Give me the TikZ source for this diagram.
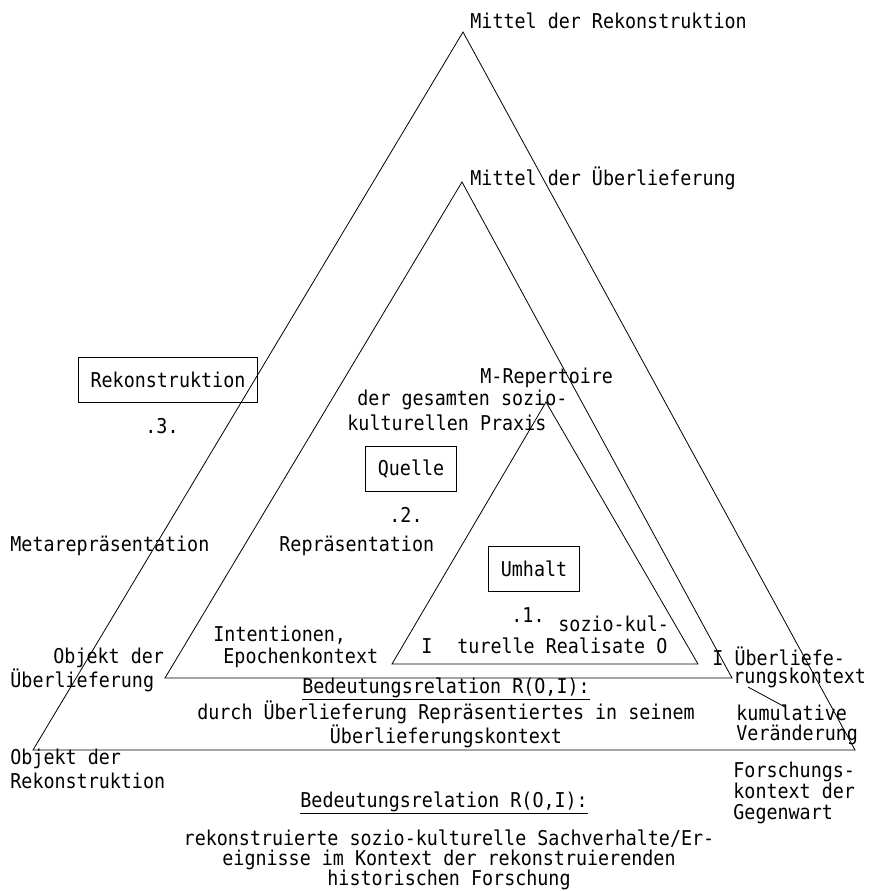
\documentclass[tikz,border=0pt]{standalone}
\usepackage{fontspec}
\setmonofont[FakeStretch=0.9]{DejaVu Sans Mono}
\usepackage{tikz}

\begin{document}
\begin{tikzpicture}[x=1pt, y=-1pt, line width=0.8pt,
    every node/.style={font=\ttfamily\fontsize{20.4}{22}\selectfont, inner sep=0pt},
    kasten/.style={draw, inner xsep=12pt, minimum height=45pt}]
    \useasboundingbox (0,0) rectangle (870,891);

    \coordinate (rek) at (463,32);
    \coordinate (rekL) at (33,750);
    \coordinate (rekR) at (855,750);
    \coordinate (ueb) at (462,182);
    \coordinate (uebL) at (165,678);
    \coordinate (uebR) at (732,678);
    \coordinate (umh) at (546,402);
    \coordinate (umhL) at (392,664);
    \coordinate (umhR) at (698,664);
    \coordinate (kumA) at (748,687);
    \coordinate (kumB) at (785,707);

    \draw (rekL) -- (rek) -- (rekR) -- cycle;
    \draw (uebL) -- (ueb) -- (uebR) -- cycle;
    \draw (umhL) -- (umh) -- (umhR) -- cycle;
    \draw (kumA) -- (kumB);

    \node[anchor=west] (mittelRek) at (470,21) {Mittel der Rekonstruktion};
    \node[anchor=west] (mittelUeb) at (470,178) {Mittel der Überlieferung};

    \node[kasten] (rekonstruktion) at (168,380) {Rekonstruktion};
    \node (drei) at (162,426) {.3.};
    \node[kasten] (quelle) at (411,469) {Quelle};
    \node (zwei) at (406,515) {.2.};
    \node[kasten] (umhalt) at (534,569) {Umhalt};
    \node (eins) at (528,615) {.1.};

    \node[anchor=west] (repertoire) at (480,378) {M-Repertoire};
    \node[anchor=west] (gesamt) at (357,400) {der gesamten sozio-};
    \node[anchor=west] (praxis) at (347,423) {kulturellen Praxis};

    \node[anchor=west] (metarep) at (10,546) {Metarepräsentation};
    \node[anchor=west] (rep) at (279,546) {Repräsentation};

    \node[anchor=west] (soziokul) at (558,624) {sozio-kul-};
    \node (innenI) at (427,646) {I};
    \node[anchor=west] (realisate) at (457,646) {turelle Realisate O};

    \node[anchor=west] (intentionen) at (213,635) {Intentionen,};
    \node[anchor=west] (epoche) at (223,658) {Epochenkontext};

    \node[anchor=west] (objUeb1) at (53,658) {Objekt der};
    \node[anchor=west] (objUeb2) at (10,680) {Überlieferung};

    \node[anchor=west] (uebKontext1) at (712,656) {I Überliefe-};
    \node[anchor=west] (uebKontext2) at (733,678) {rungskontext};

    \node[align=center, font=\ttfamily\fontsize{20.4}{21}\selectfont] (bedUeb) at (446,713)
        {\underline{Bedeutungsrelation R(O,I):}\\durch Überlieferung Repräsentiertes in seinem\\Überlieferungskontext};

    \node[anchor=west, align=left, font=\ttfamily\fontsize{20.4}{20}\selectfont] (kumulativ) at (736,725)
        {kumulative\\Veränderung};

    \node[anchor=west, align=left, font=\ttfamily\fontsize{20.4}{24}\selectfont] (objRek) at (10,769)
        {Objekt der\\Rekonstruktion};

    \node[anchor=west, align=left, font=\ttfamily\fontsize{20.4}{21}\selectfont] (forschung) at (733,793)
        {Forschungs-\\kontext der\\Gegenwart};

    \node[anchor=west] (bedRek) at (300,803) {\underline{Bedeutungsrelation R(O,I):}};

    \node[align=center, font=\ttfamily\fontsize{20.4}{20}\selectfont] (sachverhalte) at (449,860)
        {rekonstruierte sozio-kulturelle Sachverhalte/Er-\\eignisse im Kontext der rekonstruierenden\\historischen Forschung};
\end{tikzpicture}
\end{document}
